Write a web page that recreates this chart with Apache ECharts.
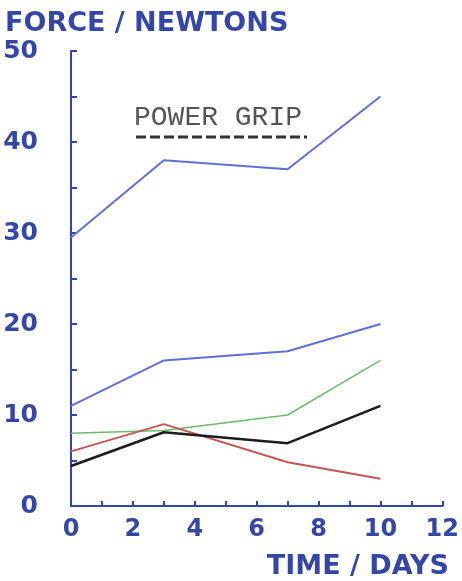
<!DOCTYPE html>
<html>
<head>
<meta charset="utf-8">
<script src="https://cdn.jsdelivr.net/npm/echarts@6/dist/echarts.min.js"></script>
<style>
  html, body { margin: 0; padding: 0; background: #fff; }
  #chart { width: 462px; height: 581px; }
</style>
</head>
<body>
<div id="chart"></div>
<script>
// time in days
const days = [0, 3, 7, 10];

// force readings (N)
const powerGrip = [29.5, 38, 37, 45];
const upperBlue = [11, 16, 17, 20];
const greenLine = [8, 8.3, 10, 16];
const redLine = [6, 9, 4.8, 3];
const blackLine = [4.4, 8.1, 6.9, 11];

const xTicks = [0, 2, 4, 6, 8, 10, 12];
const yTicks = [0, 10, 20, 30, 40, 50];

const penBlue = '#3447a8';
const font = 'DejaVu Sans';

const pairs = vals => days.map((d, i) => [d, vals[i]]);

const lineSeries = (name, vals, color, width) => ({
  name: name,
  type: 'line',
  data: pairs(vals),
  showSymbol: false,
  lineStyle: { color: color, width: width },
  animation: false
});

const chart = echarts.init(document.getElementById('chart'));

chart.setOption({
  backgroundColor: '#fff',
  title: [
    {
      text: 'FORCE / NEWTONS',
      left: 0,
      top: 5,
      textStyle: { fontFamily: font, fontWeight: 'bold', fontSize: 27, color: penBlue }
    },
    {
      text: 'TIME / DAYS',
      right: 8,
      top: 548,
      textStyle: { fontFamily: font, fontWeight: 'bold', fontSize: 27, color: penBlue }
    }
  ],
  grid: { left: 71, right: 14, top: 51, bottom: 75 },
  xAxis: {
    type: 'value',
    min: 0,
    max: 12,
    interval: 1,
    axisLine: { lineStyle: { color: penBlue, width: 2 } },
    axisTick: { inside: true, length: 5, lineStyle: { color: penBlue, width: 2 } },
    axisLabel: {
      margin: 12,
      fontFamily: font,
      fontWeight: 'bold',
      fontSize: 24,
      color: penBlue,
      formatter: v => (xTicks.indexOf(v) >= 0 ? String(v) : '')
    },
    splitLine: { show: false }
  },
  yAxis: {
    type: 'value',
    min: 0,
    max: 50,
    interval: 5,
    axisLine: { show: true, lineStyle: { color: penBlue, width: 2 } },
    axisTick: { show: true, inside: true, length: 6, lineStyle: { color: penBlue, width: 2 } },
    axisLabel: {
      margin: 33,
      fontFamily: font,
      fontWeight: 'bold',
      fontSize: 25,
      color: penBlue,
      formatter: v => (yTicks.indexOf(v) >= 0 ? String(v) : '')
    },
    splitLine: { show: false }
  },
  graphic: [
    {
      type: 'text',
      left: 134,
      top: 104,
      style: {
        text: 'POWER GRIP',
        font: '28px "Liberation Mono", monospace',
        fill: '#555'
      }
    },
    {
      type: 'line',
      shape: { x1: 136, y1: 137, x2: 307, y2: 137 },
      style: { stroke: '#333', lineWidth: 3, lineDash: [10, 4] }
    }
  ],
  series: [
    lineSeries('Power grip', powerGrip, '#5e70d6', 2),
    lineSeries('Blue', upperBlue, '#5e70d6', 2),
    lineSeries('Green', greenLine, '#6cba6a', 1.5),
    lineSeries('Red', redLine, '#c65656', 2),
    lineSeries('Black', blackLine, '#1c1c1c', 2.5)
  ]
});
</script>
</body>
</html>
